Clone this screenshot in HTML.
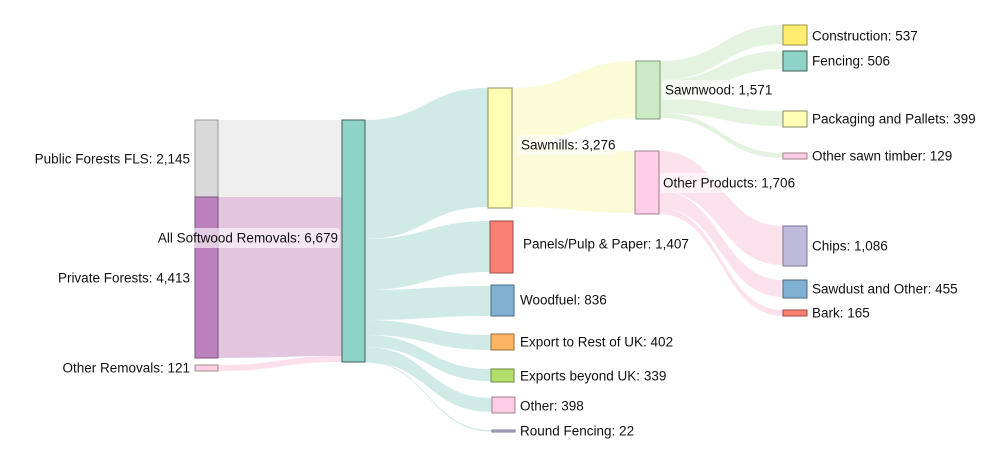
<!DOCTYPE html>
<html><head><meta charset="utf-8"><style>
html,body{margin:0;padding:0;background:#fff;}
svg text{font-family:"Liberation Sans",Arial,sans-serif;font-size:13.5px;fill:#111;dominant-baseline:central;}
</style></head><body>
<svg width="1000" height="461" viewBox="0 0 1000 461" xmlns="http://www.w3.org/2000/svg">
<g stroke="none">
<path d="M218 120 C280 120 280 120 342 120 L342 197 C280 197 280 197 218 197Z" fill="#efefef"/>
<path d="M218 197 C280 197 280 197 342 197 L342 356 C280 356 280 358 218 358Z" fill="#e1c6de"/>
<path d="M218 365 C280 365 280 356 342 356 L342 362 C280 362 280 371 218 371Z" fill="#fbe0ec"/>
<g fill="#d0ebe6">
<path d="M365 120 C426 120 426 88 488 88 L488 207 C426 207 426 239 365 239Z"/>
<path d="M365 239 C427 239 427 221 490 221 L490 272 C427 272 427 290 365 290Z"/>
<path d="M365 290 C428 290 428 286 491 286 L491 316 C428 316 428 320 365 320Z"/>
<path d="M365 320 C428 320 428 335 491 335 L491 350 C428 350 428 335 365 335Z"/>
<path d="M365 335 C428 335 428 369 491 369 L491 381 C428 381 428 347 365 347Z"/>
<path d="M365 347 C428 347 428 398 492 398 L492 412 C428 412 428 362 365 362Z"/>
<path d="M365 361.5 C428 361.5 428 430 492 430 L492 431.5 C428 431.5 428 362.5 365 362.5Z"/>
</g>
<g fill="#fbfbd8">
<path d="M512 88 C574 88 574 61 636 61 L636 118 C574 118 574 145 512 145Z"/>
<path d="M512 145 C574 145 574 151 635 151 L635 213 C574 213 574 207 512 207Z"/>
</g>
<g fill="#e4f3df">
<path d="M660 61 C722 61 722 25 783 25 L783 44 C722 44 722 80 660 80Z"/>
<path d="M660 80 C722 80 722 51 783 51 L783 69 C722 69 722 98 660 98Z"/>
<path d="M660 98 C722 98 722 111 783 111 L783 126 C722 126 722 113 660 113Z"/>
<path d="M660 113 C722 113 722 153 783 153 L783 158 C722 158 722 118 660 118Z"/>
</g>
<g fill="#fbe1ec">
<path d="M659 151 C721 151 721 226 783 226 L783 265 C721 265 721 191 659 191Z"/>
<path d="M659 191 C721 191 721 280 783 280 L783 297 C721 297 721 208 659 208Z"/>
<path d="M659 208 C721 208 721 310 783 310 L783 316 C721 316 721 214 659 214Z"/>
</g>
</g>
<g stroke-width="1">
<rect x="195" y="120" width="23" height="77" fill="#d9d9d9" stroke="#999"/>
<rect x="195" y="197" width="23" height="161" fill="#bc80bd" stroke="#7d557e"/>
<rect x="195" y="365" width="23" height="6" fill="#fccde5" stroke="#a88"/>
<rect x="342" y="120" width="23" height="242" fill="#8dd3c7" stroke="#3e5f59"/>
<rect x="488" y="88" width="24" height="120" fill="#ffffb3" stroke="#888866"/>
<rect x="490" y="221" width="23" height="52" fill="#fb8072" stroke="#9a4d45"/>
<rect x="491" y="285" width="23" height="31" fill="#80b1d3" stroke="#4b6b80"/>
<rect x="491" y="334" width="23" height="16" fill="#fdb462" stroke="#98703d"/>
<rect x="491" y="369" width="23" height="13" fill="#b3de69" stroke="#6f8a40"/>
<rect x="492" y="397" width="23" height="16" fill="#fccde5" stroke="#a0808f"/>
<rect x="492" y="430" width="23" height="2" fill="#bebada" stroke="#7a7790"/>
<rect x="636" y="61" width="24" height="58" fill="#ccebc5" stroke="#7f9a7a"/>
<rect x="635" y="151" width="24" height="63" fill="#fccde5" stroke="#a0808f"/>
<rect x="783" y="25" width="24" height="20" fill="#ffed6f" stroke="#9a8f40"/>
<rect x="783" y="51" width="24" height="20" fill="#8dd3c7" stroke="#3e5f59"/>
<rect x="783" y="111" width="24" height="16" fill="#ffffb3" stroke="#888866"/>
<rect x="783" y="153" width="24" height="6" fill="#fccde5" stroke="#a0808f"/>
<rect x="783" y="226" width="24" height="40" fill="#bebada" stroke="#7a7790"/>
<rect x="783" y="280" width="24" height="18" fill="#80b1d3" stroke="#4b6b80"/>
<rect x="783" y="310" width="24" height="6" fill="#fb8072" stroke="#9a4d45"/>
</g>
<rect x="156" y="228" width="184" height="20" rx="3" fill="#fff" fill-opacity="0.6"/>
<rect x="517" y="135" width="100" height="20" rx="3" fill="#fff" fill-opacity="0.6"/>
<rect x="662" y="80" width="104" height="20" rx="3" fill="#fff" fill-opacity="0.6"/>
<rect x="660" y="173" width="118" height="20" rx="3" fill="#fff" fill-opacity="0.6"/>
<g>
<text x="190" y="159" text-anchor="end">Public Forests FLS: 2,145</text>
<text x="190" y="278" text-anchor="end">Private Forests: 4,413</text>
<text x="190" y="368" text-anchor="end">Other Removals: 121</text>
<text x="338" y="238" text-anchor="end">All Softwood Removals: 6,679</text>
<text x="521" y="145">Sawmills: 3,276</text>
<text x="523" y="244">Panels/Pulp &amp; Paper: 1,407</text>
<text x="520" y="300">Woodfuel: 836</text>
<text x="520" y="342">Export to Rest of UK: 402</text>
<text x="520" y="376">Exports beyond UK: 339</text>
<text x="520" y="406">Other: 398</text>
<text x="520" y="431">Round Fencing: 22</text>
<text x="665" y="90">Sawnwood: 1,571</text>
<text x="663" y="183">Other Products: 1,706</text>
<text x="812" y="36">Construction: 537</text>
<text x="812" y="61">Fencing: 506</text>
<text x="812" y="119">Packaging and Pallets: 399</text>
<text x="812" y="156">Other sawn timber: 129</text>
<text x="812" y="246">Chips: 1,086</text>
<text x="812" y="289">Sawdust and Other: 455</text>
<text x="812" y="313">Bark: 165</text>
</g>
</svg>
</body></html>
